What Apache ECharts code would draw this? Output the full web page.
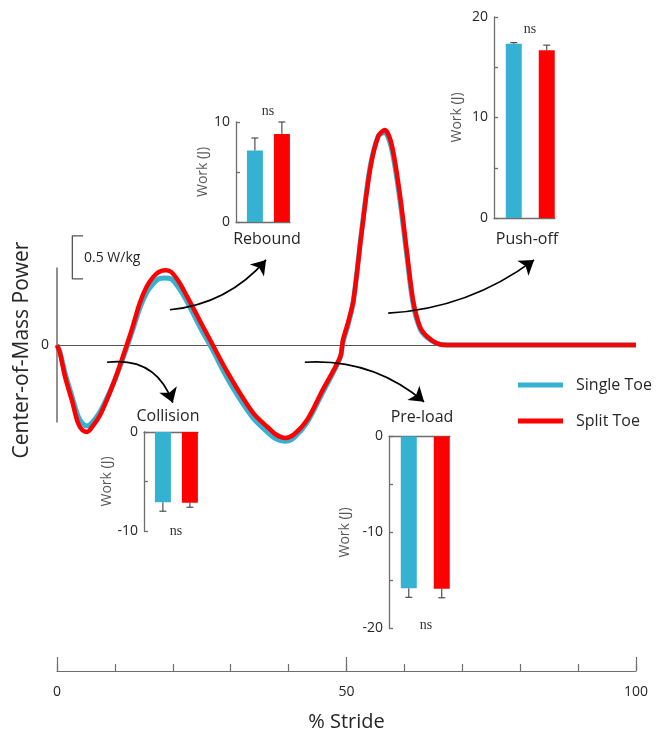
<!DOCTYPE html>
<html><head><meta charset="utf-8">
<script src="https://cdn.jsdelivr.net/npm/echarts@6/dist/echarts.min.js"></script>
<style>html,body{margin:0;padding:0;background:#fff}#c{width:657px;height:736px}</style>
</head><body><div id="c"></div>
<script>
// ---------- data ----------
const stride = [0, 0.5, 1.4, 2.6, 3.6, 4.4, 5.2, 6.2, 7.4, 8.6, 9.9, 11.2, 12.2, 13.1, 14.3, 15.5, 16.6, 17.6, 18.7, 19.7, 21.1, 22.5, 24.7, 26.9, 29.2, 31.6, 34.0, 36.3, 37.8, 39.4, 40.9, 43.2, 45.9, 48.9, 49.4, 50.3, 51.2, 52.6, 54.1, 55.5, 56.6, 57.8, 59.2, 60.4, 61.5, 62.7, 63.9, 65.6, 67.4, 70, 80, 90, 100];
const splitToe = [0, -0.09, -0.37, -0.65, -0.9, -0.99, -1.01, -0.94, -0.82, -0.64, -0.42, -0.17, 0.03, 0.22, 0.49, 0.68, 0.79, 0.85, 0.87, 0.85, 0.73, 0.56, 0.28, 0, -0.29, -0.56, -0.8, -0.95, -1.04, -1.08, -1.04, -0.87, -0.52, -0.14, 0.06, 0.27, 0.52, 1.3, 2.05, 2.43, 2.5, 2.33, 1.76, 1.1, 0.52, 0.21, 0.1, 0.02, 0, 0, 0, 0, 0];
const singleToe = [0, -0.08, -0.33, -0.6, -0.82, -0.91, -0.94, -0.89, -0.78, -0.62, -0.42, -0.19, 0.0, 0.18, 0.43, 0.61, 0.71, 0.77, 0.78, 0.77, 0.66, 0.5, 0.21, -0.06, -0.36, -0.63, -0.86, -1.01, -1.09, -1.12, -1.08, -0.9, -0.55, -0.15, 0.04, 0.24, 0.52, 1.32, 2.08, 2.43, 2.47, 2.28, 1.7, 1.05, 0.48, 0.19, 0.09, 0.02, 0, 0, 0, 0, 0];
const seriesNames = ['Single Toe', 'Split Toe'];
const xTickLabels = ['0', '50', '100'];
const scaleBarValue = 0.5;       // W/kg
const scaleBarLabel = '0.5 W/kg';

const collisionWork = [-7.1, -7.15];
const collisionErr  = [0.9, 0.45];
const reboundWork   = [7.15, 8.8];
const reboundErr    = [1.25, 1.2];
const preloadWork   = [-15.8, -15.85];
const preloadErr    = [0.95, 0.95];
const pushoffWork   = [17.35, 16.7];
const pushoffErr    = [0.1, 0.5];
const sigLabel = 'ns';

// ---------- styles / layout ----------
const BLUE = '#35B1D1', RED = '#FF0000';
const FONT = '"Open Sans", "Noto Sans", sans-serif';
const TXT = '#262626', AXC = '#6e6e6e';

const insets = [
  {title:'Rebound',   mean:reboundWork,   err:reboundErr,   grid:{left:236, top:122,   width:54, height:100}, x:[0.3,2.3],  y:[0,10],   nameGap:25, titlePos:[267,239], nsPos:[268,111]},
  {title:'Push-off',  mean:pushoffWork,   err:pushoffErr,   grid:{left:494, top:17,    width:61, height:201}, x:[0.4,2.25], y:[0,20],   nameGap:30, titlePos:[527,239], nsPos:[530,29]},
  {title:'Collision', mean:collisionWork, err:collisionErr, grid:{left:144, top:432,   width:54, height:99},  x:[0.3,2.3],  y:[-10,0],  nameGap:17, titlePos:[168,416], nsPos:[176,531]},
  {title:'Pre-load',  mean:preloadWork,   err:preloadErr,   grid:{left:389, top:436.5, width:61, height:192}, x:[0.4,2.25], y:[-20,0],  nameGap:37, titlePos:[422,417], nsPos:[426,625]}
];

// main grid: zero line at y=345, 86 px per W/kg, x-axis line at y=671
const mainY = [-3.79, 3.5];

const grids = [{left:57, right:21, top:44, bottom:65, containLabel:false, outerBoundsMode:'none'}];
const xAxes = [
  {gridIndex:0, type:'value', min:0, max:100, interval:50, position:'bottom',
   axisLine:{onZero:false, lineStyle:{color:AXC, width:1.2}},
   axisTick:{inside:true, length:14, lineStyle:{color:AXC, width:1.2}},
   axisLabel:{margin:14, color:TXT, fontSize:14, fontFamily:FONT, formatter:(v)=>xTickLabels[Math.round(v/50)] || ''},
   splitLine:{show:false},
   name:'% Stride', nameLocation:'middle', nameGap:41, nameTextStyle:{fontSize:20, color:TXT, fontFamily:FONT}},
  {gridIndex:0, type:'value', min:0, max:100, interval:10, position:'bottom',
   axisLine:{show:false, onZero:false}, axisTick:{inside:true, length:7, lineStyle:{color:AXC, width:1.2}},
   axisLabel:{show:false}, splitLine:{show:false}}
];
const yAxes = [{gridIndex:0, type:'value', min:mainY[0], max:mainY[1], show:false}];
const series = [];

// scale bar + partial left axis + zero line (zero line carried as markLine)
const sbTop = 0.77 + scaleBarValue;
series.push({type:'line', xAxisIndex:0, yAxisIndex:0, silent:true, z:1, showSymbol:false,
  data:[[4.5, sbTop],[2.65, sbTop],[2.65, 0.77],[4.5, 0.77]],
  lineStyle:{color:'#555', width:1.3},
  markLine:{silent:true, symbol:'none', z:1,
    lineStyle:{color:'#555', width:1.1, type:'solid'},
    label:{show:true, position:'start', formatter:'0', color:TXT, fontSize:14, fontFamily:FONT, distance:8},
    data:[{yAxis:0}]}
});
series.push({type:'line', xAxisIndex:0, yAxisIndex:0, silent:true, z:1, showSymbol:false,
  data:[[0,0.9],[0,-0.9]], lineStyle:{color:'#555', width:1.3}});

// main curves
series.push({type:'line', name:seriesNames[0], xAxisIndex:0, yAxisIndex:0, showSymbol:false, smooth:0.3, z:3,
  data: stride.map((x,i)=>[x, singleToe[i]]), lineStyle:{color:BLUE, width:5}, itemStyle:{color:BLUE}});
series.push({type:'line', name:seriesNames[1], xAxisIndex:0, yAxisIndex:0, showSymbol:false, smooth:0.3, z:4,
  data: stride.map((x,i)=>[x, splitToe[i]]), lineStyle:{color:RED, width:4.5}, itemStyle:{color:RED}});

// curved arrows (annotation, in data space)
const arrows = [
  {from:[8.64,-0.2],  to:[20.0,-0.67], bend:0.4},
  {from:[19.5,0.41],  to:[36.1,0.99],  bend:-0.2},
  {from:[42.8,-0.2],  to:[63.4,-0.66], bend:0.2},
  {from:[57.2,0.37],  to:[82.4,0.99],  bend:-0.15}
];
series.push({type:'lines', coordinateSystem:'cartesian2d', xAxisIndex:0, yAxisIndex:0, silent:true, z:6,
  symbol:['none','arrow'], symbolSize:14,
  lineStyle:{color:'#000', width:1.7, opacity:1},
  data: arrows.map(a=>({coords:[a.from, a.to], lineStyle:{curveness:a.bend}}))});

// insets
const graphics = [];
insets.forEach((ins, k)=>{
  const gi = k+1;
  grids.push(Object.assign({containLabel:false, outerBoundsMode:'none'}, ins.grid));
  xAxes.push({gridIndex:gi, type:'value', min:ins.x[0], max:ins.x[1],
    axisLine:{show:true, onZero:true, lineStyle:{color:AXC, width:1.3}},
    axisTick:{show:false}, axisLabel:{show:false}, splitLine:{show:false}});
  yAxes.push({gridIndex:gi, type:'value', min:ins.y[0], max:ins.y[1], interval:5,
    axisLine:{show:true, onZero:false, lineStyle:{color:AXC, width:1.3}},
    axisTick:{show:true, inside:true, length:4, lineStyle:{color:AXC, width:1.3}},
    axisLabel:{margin:6, color:TXT, fontSize:14, fontFamily:FONT, formatter:(v)=> (v % 10 === 0 ? String(v) : '')},
    splitLine:{show:false},
    name:'Work (J)', nameLocation:'middle', nameRotate:90, nameGap:ins.nameGap,
    nameTextStyle:{color:'#595959', fontSize:14, fontFamily:FONT}});
  series.push({type:'bar', xAxisIndex:gi+1, yAxisIndex:gi, barWidth:16, silent:true, z:2,
    data: ins.mean.map((m,i)=>({value:[i+1, m], itemStyle:{color: i===0 ? BLUE : RED}}))});
  series.push({type:'custom', xAxisIndex:gi+1, yAxisIndex:gi, silent:true, z:5, clip:false,
    data: ins.mean.map((m,i)=>[i+1, m, ins.err[i]]),
    renderItem:(params, api)=>{
      const x = api.value(0), m = api.value(1), e = api.value(2);
      const s = m < 0 ? -1 : 1;
      const p0 = api.coord([x, m]), p1 = api.coord([x, m + s*e]);
      const st = {stroke:'#404040', lineWidth:1.1};
      return {type:'group', children:[
        {type:'line', shape:{x1:p0[0], y1:p0[1], x2:p1[0], y2:p1[1]}, style:st},
        {type:'line', shape:{x1:p1[0]-3.5, y1:p1[1], x2:p1[0]+3.5, y2:p1[1]}, style:st}
      ]};
    }});
  graphics.push({type:'text', x:ins.titlePos[0], y:ins.titlePos[1], silent:true,
    style:{text:ins.title, font:'16px '+FONT, fill:TXT, align:'center', verticalAlign:'middle', textAlign:'center', textVerticalAlign:'middle'}});
  graphics.push({type:'text', x:ins.nsPos[0], y:ins.nsPos[1], silent:true,
    style:{text:sigLabel, font:'14px "Liberation Serif", "DejaVu Serif", serif', fill:'#333', align:'center', verticalAlign:'middle', textAlign:'center', textVerticalAlign:'middle'}});
});

graphics.push({type:'text', x:22, y:350, rotation:Math.PI/2, silent:true,
  style:{text:'Center-of-Mass Power', font:'21px '+FONT, fill:TXT, align:'center', verticalAlign:'middle', textAlign:'center', textVerticalAlign:'middle'}});
graphics.push({type:'text', x:84, y:258, silent:true,
  style:{text:scaleBarLabel, font:'14px '+FONT, fill:TXT, align:'left', verticalAlign:'middle', textAlign:'left', textVerticalAlign:'middle'}});

const chart = echarts.init(document.getElementById('c'), null, {renderer:'canvas'});
chart.setOption({
  animation:false,
  backgroundColor:'#fff',
  textStyle:{fontFamily:FONT},
  legend:{orient:'vertical', left:513, top:372, itemWidth:45, itemHeight:5, itemGap:20, icon:'rect', selectedMode:false,
    textStyle:{fontSize:16, color:TXT, fontFamily:FONT, padding:[0,0,0,8]}, data:seriesNames},
  grid:grids, xAxis:xAxes, yAxis:yAxes, series:series, graphic:graphics
});
</script></body></html>
